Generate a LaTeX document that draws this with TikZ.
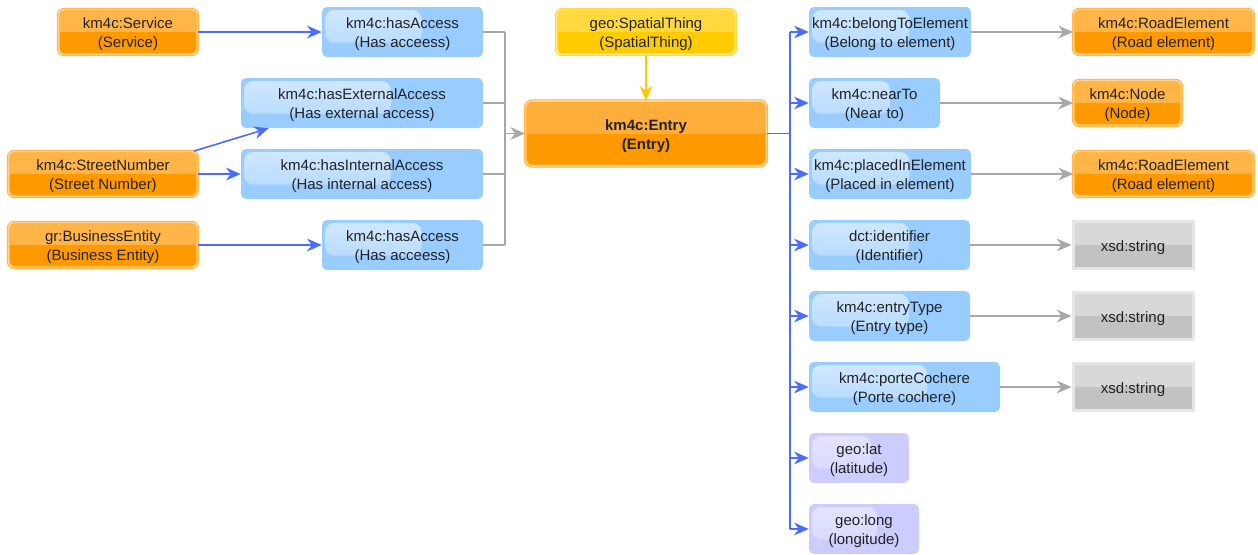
\documentclass[tikz,border=0pt]{standalone}
\usepackage{fontspec}
\setmainfont{Liberation Sans}
\usetikzlibrary{arrows.meta,calc}

\definecolor{txt}{HTML}{222222}
\definecolor{clsTop}{HTML}{FFB547}
\definecolor{clsBot}{HTML}{FF9900}
\definecolor{clsEdge}{HTML}{FFAA2B}
\definecolor{clsRing}{HTML}{FFD48F}
\definecolor{entTop}{HTML}{FFAD3B}
\definecolor{entBot}{HTML}{FF9900}
\definecolor{geoTop}{HTML}{FFD93D}
\definecolor{geoBot}{HTML}{FFCC00}
\definecolor{geoEdge}{HTML}{FFD21F}
\definecolor{geoRing}{HTML}{FFE98C}
\definecolor{propFill}{HTML}{99CCFF}
\definecolor{propGlossTop}{HTML}{D2E9FF}
\definecolor{propGlossBot}{HTML}{AFD7FF}
\definecolor{dataFill}{HTML}{CCCCFF}
\definecolor{dataGlossTop}{HTML}{E4E4FF}
\definecolor{dataGlossBot}{HTML}{D6D6FF}
\definecolor{litTop}{HTML}{D8D8D8}
\definecolor{litBot}{HTML}{C2C2C2}
\definecolor{litRim}{HTML}{E6E6E6}
\definecolor{objLine}{HTML}{4A6CFF}
\definecolor{refLine}{HTML}{A8A8A8}
\definecolor{subLine}{HTML}{FFC800}

% two-line labels, set a little below the geometric centre
\newcommand\lbl[1]{\raisebox{-2pt}[\height][\depth]{\begin{tabular}{@{}c@{}}#1\end{tabular}}}

\tikzset{
  every node/.style={text=txt, align=center, inner sep=0pt},
  twotone/.style={path picture={
      \fill[#1, sharp corners] ([shift={(-6pt,6pt)}]path picture bounding box.north west)
        rectangle ([xshift=6pt]path picture bounding box.east);}},
  gloss/.style 2 args={path picture={
      \shade[top color=#1, bottom color=#2, rounded corners=7pt]
        ([shift={(2.25pt,-2.25pt)}]path picture bounding box.north west) rectangle
        ($(path picture bounding box.west)!0.62!(path picture bounding box.east)+(0,-8pt)$);}},
  ringed/.style 2 args={draw=#1, double=#2, line width=0.6pt, double distance=1.3pt},
  clsbox/.style={ringed={clsEdge}{clsRing}, rounded corners=4.5pt,
      minimum height=33.75pt, fill=clsBot, twotone=clsTop},
  entrybox/.style={ringed={clsEdge}{clsRing}, rounded corners=5.25pt,
      minimum height=48.75pt, font=\fontsize{11.25}{14.25}\selectfont\bfseries,
      fill=entBot, twotone=entTop},
  geobox/.style={ringed={geoEdge}{geoRing}, rounded corners=4.5pt,
      minimum height=33.75pt, fill=geoBot, twotone=geoTop},
  propbox/.style={fill=propFill, rounded corners=3.75pt, minimum height=37.5pt,
      gloss={propGlossTop}{propGlossBot}},
  databox/.style={fill=dataFill, rounded corners=3.75pt, minimum height=37.5pt,
      gloss={dataGlossTop}{dataGlossBot}},
  litbox/.style={draw=litRim, line width=2.25pt, minimum width=90pt,
      minimum height=35.25pt, fill=litBot, twotone=litTop},
  tip/.style={-{Stealth[length=11pt, width=9.5pt, inset=3.5pt]}},
  objarrow/.style={draw=objLine, line width=1.2pt, tip},
  objline/.style={draw=objLine, line width=1.2pt},
  refarrow/.style={draw=refLine, line width=1.2pt, tip},
  refline/.style={draw=refLine, line width=1.2pt},
  subarrow/.style={draw=subLine, line width=1.2pt, tip},
}

\begin{document}
\begin{tikzpicture}[x=0.75pt, y=-0.75pt, font=\fontsize{11.25}{14.25}\selectfont]
\useasboundingbox (0,0) rectangle (1258,554);

% classes pointing to the access properties
\node[clsbox, minimum width=104.25pt] (svc) at (128,32) {\lbl{km4c:Service\\(Service)}};
\node[clsbox, minimum width=141.75pt] (snum) at (103,174) {\lbl{km4c:StreetNumber\\(Street Number)}};
\node[clsbox, minimum width=141.75pt] (bent) at (103,245) {\lbl{gr:BusinessEntity\\(Business Entity)}};

% access properties
\node[propbox, minimum width=120.75pt] (acc1) at (402.5,32) {\lbl{km4c:hasAccess\\(Has acceess)}};
\node[propbox, minimum width=181.5pt] (extacc) at (362,103) {\lbl{km4c:hasExternalAccess\\(Has external access)}};
\node[propbox, minimum width=181.5pt] (intacc) at (362,174) {\lbl{km4c:hasInternalAccess\\(Has internal access)}};
\node[propbox, minimum width=120.75pt] (acc2) at (402.5,245) {\lbl{km4c:hasAccess\\(Has acceess)}};

% central class and its superclass
\node[geobox, minimum width=134.25pt] (spatial) at (646,32) {\lbl{geo:SpatialThing\\(SpatialThing)}};
\node[entrybox, minimum width=180.75pt] (entry) at (646,133.5) {\lbl{km4c:Entry\\(Entry)}};

% outgoing properties
\node[propbox, minimum width=121.5pt] (belong) at (890,32) {\lbl{km4c:belongToElement\\(Belong to element)}};
\node[propbox, minimum width=98.25pt] (near) at (874.5,103) {\lbl{km4c:nearTo\\(Near to)}};
\node[propbox, minimum width=121.5pt] (placed) at (890,174) {\lbl{km4c:placedInElement\\(Placed in element)}};
\node[propbox, minimum width=120.75pt] (ident) at (889.5,245) {\lbl{dct:identifier\\(Identifier)}};
\node[propbox, minimum width=120.75pt] (etype) at (889.5,316) {\lbl{km4c:entryType\\(Entry type)}};
\node[propbox, minimum width=143.25pt] (porte) at (904.5,387) {\lbl{km4c:porteCochere\\(Porte cochere)}};
\node[databox, minimum width=75pt] (lat) at (859,458) {\lbl{geo:lat\\(latitude)}};
\node[databox, minimum width=82.5pt] (long) at (864,529) {\lbl{geo:long\\(longitude)}};

% ranges
\node[clsbox, minimum width=135pt] (road1) at (1163.5,32) {\lbl{km4c:RoadElement\\(Road element)}};
\node[clsbox, minimum width=81pt] (rnode) at (1127.5,103) {\lbl{km4c:Node\\(Node)}};
\node[clsbox, minimum width=135pt] (road2) at (1163.5,174) {\lbl{km4c:RoadElement\\(Road element)}};
\node[litbox] (str1) at (1133,245) {\lbl{xsd:string}};
\node[litbox] (str2) at (1133,316) {\lbl{xsd:string}};
\node[litbox] (str3) at (1133,387) {\lbl{xsd:string}};

% junctions
\coordinate (jl) at (505,133.5);
\coordinate (jr) at (790,133.5);

% left side: classes to access properties
\draw[objarrow] ([xshift=-3pt]snum.north east) -- ([xshift=21pt]extacc.south west);
\draw[objarrow] (svc.east) -- (acc1.west);
\draw[objarrow] (snum.east) -- (intacc.west);
\draw[objarrow] (bent.east) -- (acc2.west);

% access properties merge into the entry
\draw[refline] (acc1.east) -- (acc1.east -| jl);
\draw[refline] (extacc.east) -- (extacc.east -| jl);
\draw[refline] (intacc.east) -- (intacc.east -| jl);
\draw[refline] (acc2.east) -- (acc2.east -| jl);
\draw[refline] (acc1.east -| jl) -- (acc2.east -| jl);
\draw[refarrow] (jl) -- (entry.west);

% superclass link
\draw[subarrow] (spatial.south) -- (entry.north);

% entry fans out to its properties
\draw[objline] (entry.east) -- (jr);
\draw[objline] (belong.west -| jr) -- (long.west -| jr);
\foreach \p in {belong,near,placed,ident,etype,porte,lat,long}
  \draw[objarrow] (\p.west -| jr) -- (\p.west);

% property ranges
\draw[refarrow] (belong.east) -- (road1.west);
\draw[refarrow] (near.east) -- (rnode.west);
\draw[refarrow] (placed.east) -- (road2.west);
\draw[refarrow] (ident.east) -- (str1.west);
\draw[refarrow] (etype.east) -- (str2.west);
\draw[refarrow] (porte.east) -- (str3.west);
\end{tikzpicture}
\end{document}
